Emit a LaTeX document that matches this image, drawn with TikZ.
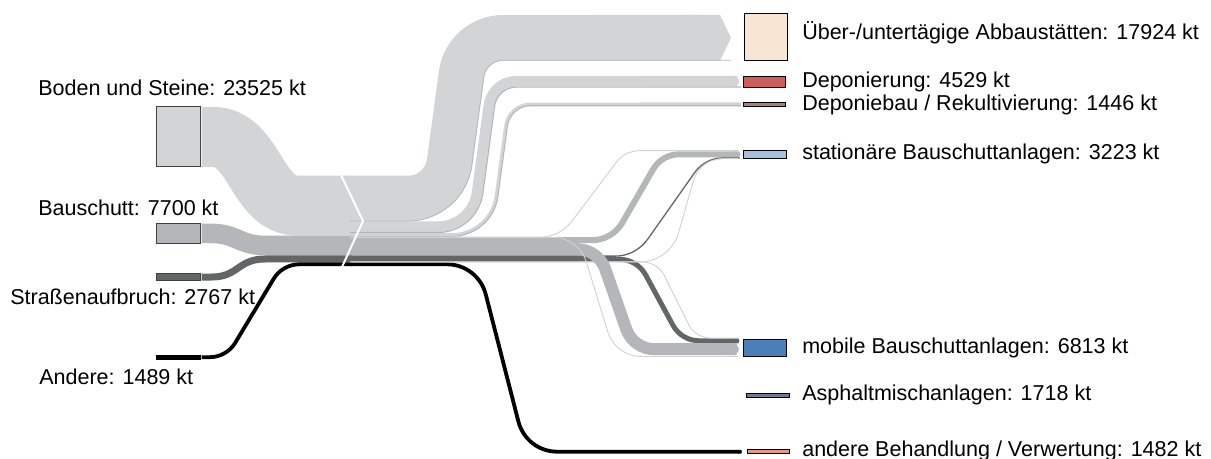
\documentclass[tikz,border=0pt]{standalone}
\usepackage{fontspec}
\setmainfont{Liberation Sans}
\usetikzlibrary{arrows.meta}

\definecolor{boden}{HTML}{D3D4D6}
\definecolor{bauschutt}{HTML}{B5B6B9}
\definecolor{strasse}{HTML}{646569}
\definecolor{abbau}{HTML}{F8E5D3}
\definecolor{deponie}{HTML}{CD5E5E}
\definecolor{depbau}{HTML}{B47A7E}
\definecolor{stationaer}{HTML}{A7C0DD}
\definecolor{mobil}{HTML}{4A80B9}
\definecolor{asphalt}{HTML}{6D7B8F}
\definecolor{behandlung}{HTML}{EA987A}

\def\px{0.025cm}

% Band: #1 Stil, #2 x0, #3 y0, #4 Beginn der Kurve, #5 y1, #6 x1, #7 Winkel, #8 Radius unten, #9 Radius oben
\def\band#1#2#3#4#5#6#7#8#9{
	\pgfmathsetmacro\hub{abs(#5-#3)}
	\pgfmathsetmacro\gerade{(\hub-(#8+#9)*(1-cos(#7)))/sin(#7)}
	\ifdim #5pt<#3pt
		\draw[#1] (#2,#3) -- (#4,#3) arc[start angle=90, delta angle=-#7, radius=#8]
			-- ++(-#7:\gerade) arc[start angle=270-#7, delta angle=#7, radius=#9] -- (#6,#5);
	\else
		\draw[#1] (#2,#3) -- (#4,#3) arc[start angle=-90, delta angle=#7, radius=#8]
			-- ++(#7:\gerade) arc[start angle=90+#7, delta angle=-#7, radius=#9] -- (#6,#5);
	\fi
}

\tikzset{
	schrift/.style={anchor=base west, inner sep=0pt, font=\fontsize{15.3pt}{18pt}\selectfont},
	kasten/.style={draw=black!75, line width=1*\px, inner sep=0pt},
	spitze/.style={-{Triangle Cap[length=0pt 0.24]}},
	haar/.style={color=black!18, line width=0.9*\px},
}

\begin{document}
\begin{tikzpicture}[x=0.025cm, y=-0.025cm]
\useasboundingbox (0,0) rectangle (1211,459);

% Zufluesse
\draw[boden, line width=60*\px] (201.5,137) -- (213,137) .. controls (255,137) and (256,205.7) .. (298,205.7) -- (352,205.7);
\draw[bauschutt, line width=19.6*\px] (201.5,233.4) -- (210,233.4) .. controls (238,233.4) and (238,245.5) .. (266,245.5) -- (352,245.5);
\draw[strasse, line width=7*\px] (201.5,277) -- (212,277) .. controls (238,277) and (238,259) .. (265,259) -- (352,259);
\band{black, line width=3.8*\px}{201.5}{357.2}{209.6}{264.3}{352}{59}{30}{30}

% Abfluesse
\band{black, line width=3.8*\px, spitze}{350}{264.3}{447}{451.7}{742}{75.6}{40}{40}
\band{strasse, line width=5*\px, spitze}{350}{259.3}{619.3}{340.8}{739.5}{61.5}{30}{30}
\band{strasse, line width=1.3*\px, spitze}{350}{256.15}{615}{157.8}{740}{54.8}{40}{35}
\band{haar}{350}{261.9}{640}{158.8}{738}{74}{40}{30}
\band{haar}{350}{261.9}{642}{338.1}{738}{63.5}{25}{25}
\band{bauschutt, line width=6*\px, spitze}{350}{240.2}{592}{154.3}{740.5}{60}{35}{30}
\band{bauschutt, line width=12*\px, spitze}{350}{249.2}{577}{349.2}{739}{70.7}{30}{30}
\band{boden, line width=2.6*\px, spitze}{350}{234.4}{452}{103.8}{741}{82.3}{44.4}{25.6}
\band{bauschutt, line width=1.2*\px, spitze}{350}{236.3}{452}{105.7}{741}{82.3}{46.3}{23.7}
\band{boden, line width=10.5*\px, spitze}{350}{226.65}{438}{81.25}{739.5}{82.3}{39.4}{27.6}
\band{bauschutt, line width=1.2*\px, spitze}{350}{232.5}{438}{87.1}{741}{82.3}{45.25}{21.75}
\band{boden, line width=45.7*\px, spitze}{350}{198.55}{408}{37.85}{731}{82.3}{42}{42}
\band{bauschutt, line width=0.8*\px}{350}{221}{408}{60.3}{731}{82.3}{64.45}{19.55}
\band{haar}{350}{237.1}{540}{150.6}{738}{53}{40}{30}
\band{haar}{350}{237.4}{553}{356.5}{738}{73}{35}{35}

% Knoten in der Mitte
\draw[white, line width=2*\px] (341,175) -- (363,221) -- (342,267);

% Quellen
\node[kasten, fill=boden, minimum width=44*\px, minimum height=60*\px] (kboden) at (178,137) {};
\node[kasten, fill=bauschutt, minimum width=44*\px, minimum height=19.8*\px] (kbau) at (178,233.4) {};
\node[kasten, fill=strasse, minimum width=44*\px, minimum height=7*\px] (kstrasse) at (178,277) {};
\node[kasten, draw=black, fill=black, minimum width=44*\px, minimum height=3.8*\px] (kandere) at (178,357.2) {};

\node[schrift] (tboden) at (38,96) {Boden und Steine: 23525 kt};
\node[schrift] (tbau) at (38,216) {Bauschutt: 7700 kt};
\node[schrift] (tstrasse) at (10,304.3) {Straßenaufbruch: 2767 kt};
\node[schrift] (tandere) at (39,384.3) {Andere: 1489 kt};

% Ziele
\node[kasten, draw=black, fill=abbau, minimum width=43*\px, minimum height=47*\px] (kabbau) at (765.5,37.5) {};
\node[kasten, draw=black, fill=deponie, minimum width=42.5*\px, minimum height=11.5*\px] (kdep) at (764.5,82.2) {};
\node[kasten, draw=black, fill=depbau, minimum width=42.5*\px, minimum height=4*\px] (kdepbau) at (764.5,104.5) {};
\node[kasten, draw=black, fill=stationaer, minimum width=42.7*\px, minimum height=8*\px] (kstat) at (765.3,154.3) {};
\node[kasten, draw=black, fill=mobil, minimum width=42.7*\px, minimum height=17.4*\px] (kmobil) at (765.3,348) {};
\node[kasten, draw=black, fill=asphalt, minimum width=42.6*\px, minimum height=4.4*\px] (kasphalt) at (768,395.5) {};
\node[kasten, draw=black, fill=behandlung, minimum width=42*\px, minimum height=4.5*\px] (kbehandl) at (768,451.7) {};

\node[schrift] (tabbau) at (802,40) {Über-/untertägige Abbaustätten: 17924 kt};
\node[schrift] (tdep) at (802,87.3) {Deponierung: 4529 kt};
\node[schrift] (tdepbau) at (802,111) {Deponiebau / Rekultivierung: 1446 kt};
\node[schrift] (tstat) at (802,159.3) {stationäre Bauschuttanlagen: 3223 kt};
\node[schrift] (tmobil) at (802,353.3) {mobile Bauschuttanlagen: 6813 kt};
\node[schrift] (tasphalt) at (802,400.7) {Asphaltmischanlagen: 1718 kt};
\node[schrift] (tbehandl) at (802,456.7) {andere Behandlung / Verwertung: 1482 kt};
\end{tikzpicture}
\end{document}
